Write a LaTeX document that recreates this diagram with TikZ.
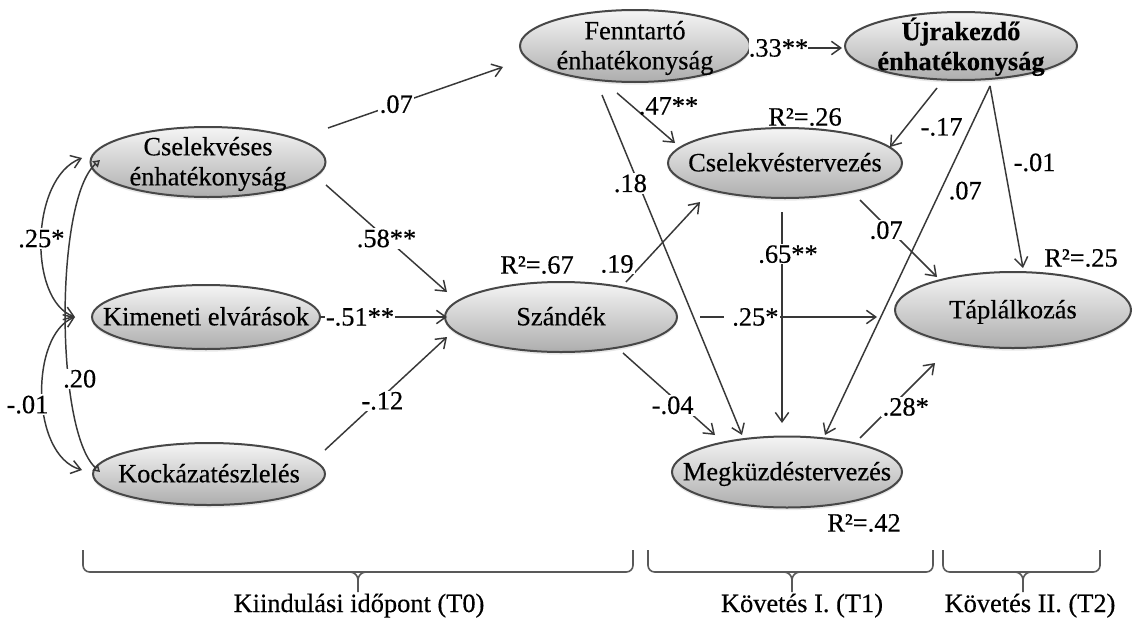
\documentclass[tikz,border=0pt]{standalone}
\usepackage{fontspec}
\setmainfont[FakeBold=0.35]{Liberation Serif}
\usetikzlibrary{arrows.meta,shapes.geometric,calc,shadows}
\newcommand{\ztext}[1]{\makebox[0pt]{\raisebox{-0.35em}[0pt][0pt]{\begin{tabular}[c]{@{}c@{}}#1\end{tabular}}}}
\tikzset{
  ell/.style={ellipse, draw=black!72, line width=1.5pt, top color=black!4, bottom color=black!32,
    inner sep=0pt, drop shadow={shadow xshift=0pt, shadow yshift=-2pt, opacity=0.18}},
  sz/.style 2 args={minimum width=#1*0.75pt, minimum height=#2*0.75pt},
  arr/.style={line width=1.1pt, draw=black!78, -{Straight Barb[length=7pt,width=10pt]}},
  cov/.style={line width=1.1pt, draw=black!78, {Straight Barb[length=7pt,width=10pt]}-{Straight Barb[length=7pt,width=10pt]}},
  covt/.style={line width=1.1pt, draw=black!78, {Triangle[open,length=5pt,width=6pt]}-{Triangle[open,length=5pt,width=6pt]}},
  lbl/.style={fill=white, inner sep=1pt, text=black},
  lbls/.style={inner sep=0pt, text=black},
  brc/.style={line width=1.2pt, draw=black!65, rounded corners=5pt}
}
\begin{document}
\begin{tikzpicture}[x=0.75pt, y=-0.75pt, font=\fontsize{19.8}{22.5}\selectfont]
\useasboundingbox (0,0) rectangle (1134,621);
\fill[white] (0,0) rectangle (1134,621);

% ellipses
\node[ell, sz={235}{70}] (csel) at (208,162) {\ztext{Cselekvéses\\énhatékonyság}};
\node[ell, sz={228}{64}] (kim) at (206,317) {\ztext{Kimeneti elvárások}};
\node[ell, sz={232}{62}] (kock) at (209,474) {\ztext{Kockázatészlelés}};
\node[ell, sz={232}{70}] (szand) at (561,317) {\ztext{Szándék}};
\node[ell, sz={230}{72}] (fenn) at (635,46) {\ztext{Fenntartó\\énhatékonyság}};
\node[ell, sz={232}{68}] (ujra) at (961,46) {\ztext{\textbf{Újrakezdő}\\\textbf{énhatékonyság}}};
\node[ell, sz={234}{70}] (cterv) at (785,163) {\ztext{Cselekvéstervezés}};
\node[ell, sz={236}{76}] (tapl) at (1013,310) {\ztext{Táplálkozás}};
\node[ell, sz={230}{71}] (megk) at (787,472) {\ztext{Megküzdéstervezés}};

% paths
\draw[arr] ($(csel)+(120,-34)$) -- node[lbl, pos=0.39] (l1) {.07} ($(fenn)+(-132,21)$);
\draw[arr] ($(csel)+(118,23)$) -- node[lbl, pos=0.5] (l2) {.58**} ($(szand)+(-114,-25)$);
\draw[arr] ($(kim)+(114,0)$) -- node[lbl, pos=0.315] (l3) {-.51**} ($(szand)+(-114,0)$);
\draw[arr] ($(kock)+(116,-24)$) -- node[lbl, pos=0.47, yshift=-3pt] (l4) {-.12} ($(szand)+(-114,20)$);
\draw[arr] ($(szand)+(65,-35)$) -- node[lbl, pos=0.15, xshift=-15pt, yshift=4.5pt] (l5) {.19} ($(cterv)+(-85,39)$);
\draw[arr] ($(szand)+(62,36)$) -- node[lbl, pos=0.54, yshift=-6pt] (l6) {-.04} ($(megk)+(-72,-37)$);
\draw[arr] ($(szand)+(139,0)$) -- node[lbl, pos=0.294] (l7) {\hspace{5pt}.25*\hspace{20pt}} ($(tapl)+(-136,7)$);
\draw[arr] ($(fenn)+(115,2)$) -- node[lbl, inner sep=0pt, pos=0.31] (l8) {.33**} ($(ujra)+(-119,2)$);
\draw[arr] ($(fenn)+(-18,47)$) -- node[lbls, pos=0.26, anchor=west, xshift=4.5pt] (l9) {.47**} ($(cterv)+(-110,-20)$);
\draw[arr] ($(fenn)+(-33,49)$) -- node[lbl, pos=0.26, xshift=-6pt] (l10) {.18} ($(megk)+(-45,-37)$);
\draw[arr] ($(ujra)+(-24,42)$) -- node[lbls, pos=0.66, anchor=west, xshift=10.5pt] (l11) {-.17} ($(cterv)+(105,-16)$);
\draw[arr] ($(ujra)+(29,40)$) -- node[lbls, pos=0.30, anchor=west, xshift=5.6pt] (l12) {.07} ($(megk)+(38,-37)$);
\draw[arr] ($(ujra)+(29,40)$) -- node[lbls, pos=0.42, anchor=west, xshift=6.8pt] (l13) {-.01} ($(tapl)+(10,-42)$);
\draw[arr] ($(cterv)+(-3,49)$) -- node[lbl, pos=0.2, xshift=4.5pt] (l14) {.65**} ($(megk)+(-5,-49)$);
\draw[arr] ($(cterv)+(75,37)$) -- node[lbl, pos=0.34, yshift=-3pt] (l15) {.07} ($(tapl)+(-76,-33)$);
\draw[arr] ($(megk)+(73,-34)$) -- node[lbl, pos=0.45, xshift=9pt, yshift=-2pt] (l16) {.28*} ($(tapl)+(-78,53)$);

% covariances
\draw[cov] ($(csel)+(-126,-4)$) .. controls (30,178) and (28,300) .. node[lbl, pos=0.5] (c1) {.25*} ($(kim)+(-131,0)$);
\draw[cov] ($(kim)+(-131,0)$) .. controls (30,335) and (30,455) .. node[lbl, pos=0.5, xshift=-11pt, yshift=-7.5pt] (c2) {-.01} ($(kock)+(-127,-4)$);
\draw[covt] ($(csel)+(-108,-2)$) .. controls (55,200) and (55,430) .. node[lbl, pos=0.66, xshift=7.5pt] (c3) {.20} ($(kock)+(-109,-2)$);

% R squared
\node (r67) at (537,265) {R²=.67};
\node (r26) at (805,117) {R²=.26};
\node (r25) at (1081,258) {R²=.25};
\node (r42) at (864,523) {R²=.42};

% braces
\draw[brc] (83,550) |- (358,572) -| (633,550);
\draw[brc, rounded corners=0pt] (350,572) to[out=0,in=90] (358,580) -- (358,592);
\draw[brc, rounded corners=0pt] (366,572) to[out=180,in=90] (358,580);
\draw[brc] (648,550) |- (792,572) -| (933,550);
\draw[brc, rounded corners=0pt] (784,572) to[out=0,in=90] (792,580) -- (792,592);
\draw[brc, rounded corners=0pt] (800,572) to[out=180,in=90] (792,580);
\draw[brc] (943,550) |- (1023,572) -| (1100,550);
\draw[brc, rounded corners=0pt] (1015,572) to[out=0,in=90] (1023,580) -- (1023,592);
\draw[brc, rounded corners=0pt] (1031,572) to[out=180,in=90] (1023,580);

\node[anchor=base] (t0) at (359,612) {Kiindulási időpont (T0)};
\node[anchor=base] (t1) at (802,612) {Követés I. (T1)};
\node[anchor=base] (t2) at (1030,612) {Követés II. (T2)};
\end{tikzpicture}
\end{document}
